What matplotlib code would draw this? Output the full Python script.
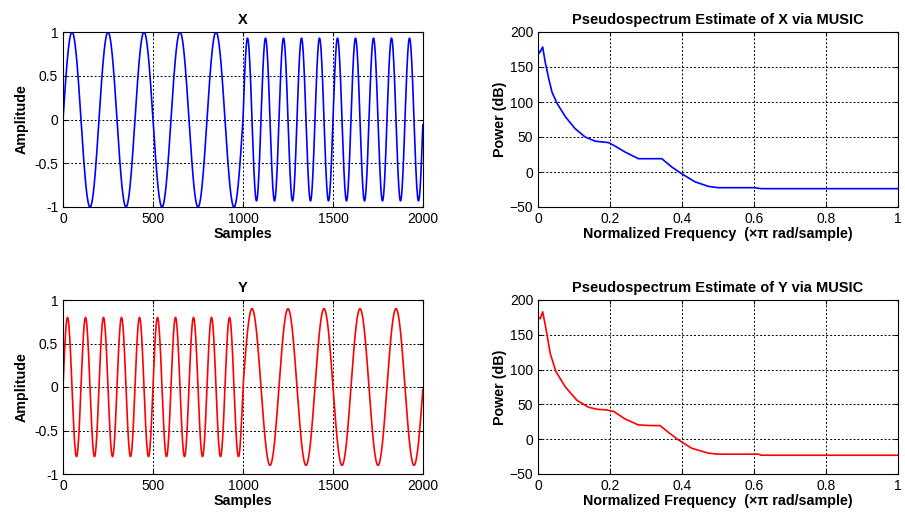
import numpy as np
import matplotlib
matplotlib.use("Agg")
import matplotlib.pyplot as plt

plt.rcParams['font.family'] = ['Liberation Sans', 'DejaVu Sans']

##### signaux : segments (debut, periode, amplitude) #####
nSamples = 2000
xSegStart = [0, 1000]
xSegPeriod = [200, 100]
xSegAmp = [1.0, 0.93]

ySegStart = [0, 1000]
ySegPeriod = [100, 200]
ySegAmp = [0.8, 0.9]

##### pseudospectres MUSIC #####
freqX = [0.0, 0.004, 0.013, 0.02, 0.03, 0.039, 0.053, 0.076, 0.103, 0.131, 0.159,
         0.196, 0.214, 0.242, 0.279, 0.344, 0.372, 0.399, 0.436, 0.473, 0.5, 0.6,
         0.62, 1.0]
powX = [174, 170, 178.5, 157, 133, 114, 98, 79, 62, 50, 44,
        42, 37, 28.5, 19, 19, 7, -2.4, -14, -20.5, -22.4, -22.4,
        -23.8, -23.8]

freqY = [0.0, 0.006, 0.013, 0.022, 0.034, 0.05, 0.076, 0.108, 0.14, 0.164, 0.191,
         0.21, 0.242, 0.279, 0.311, 0.339, 0.362, 0.39, 0.427, 0.473, 0.5, 0.612,
         0.62, 1.0]
powY = [175.6, 173, 183, 159, 123, 97, 75, 56, 46, 43, 42,
        40, 29, 20.5, 19.6, 19.6, 10, -1, -13, -20, -21.5, -21.5,
        -23, -23]


def buildSignal(starts, periods, amps, n):
    t = np.arange(n)
    sig = np.zeros(n)
    bounds = list(starts) + [n]
    for k in range(len(starts)):
        m = (t >= bounds[k]) & (t < bounds[k + 1])
        sig[m] = amps[k] * np.sin(2 * np.pi * (t[m] - bounds[k]) / periods[k])
    return t, sig


def matlabAxes(ax):
    ax.grid(True, color='black', linestyle=(0, (2, 2)), linewidth=0.7)
    ax.tick_params(direction='in', top=True, right=True, labelsize=10, length=3)
    for s in ax.spines.values():
        s.set_linewidth(0.8)


fig = plt.figure(figsize=(9.05, 5.15), dpi=100)
W, H = 905.0, 515.0
axX = fig.add_axes([63 / W, 1 - 207 / H, 360 / W, 175 / H])
axPX = fig.add_axes([538 / W, 1 - 207 / H, 360 / W, 175 / H])
axY = fig.add_axes([63 / W, 1 - 474 / H, 360 / W, 174 / H])
axPY = fig.add_axes([538 / W, 1 - 474 / H, 360 / W, 174 / H])

tX, sigX = buildSignal(xSegStart, xSegPeriod, xSegAmp, nSamples)
tY, sigY = buildSignal(ySegStart, ySegPeriod, ySegAmp, nSamples)

for ax, t, sig, col, name in [(axX, tX, sigX, 'blue', 'X'), (axY, tY, sigY, 'red', 'Y')]:
    ax.plot(t, sig, color=col, linewidth=1.2)
    ax.set_xlim(0, 2000)
    ax.set_ylim(-1, 1)
    ax.set_xticks([0, 500, 1000, 1500, 2000])
    ax.set_yticks([-1, -0.5, 0, 0.5, 1])
    ax.set_yticklabels(['-1', '-0.5', '0', '0.5', '1'])
    ax.set_title(name, fontsize=10.5, fontweight='bold', pad=6)
    ax.set_xlabel('Samples', fontsize=10.3, fontweight='bold', labelpad=1)
    ax.set_ylabel('Amplitude', fontsize=10.3, fontweight='bold', labelpad=4)
    matlabAxes(ax)

for ax, f, p, col, name in [(axPX, freqX, powX, 'blue', 'X'), (axPY, freqY, powY, 'red', 'Y')]:
    ax.plot(f, p, color=col, linewidth=1.2)
    ax.set_xlim(0, 1)
    ax.set_ylim(-50, 200)
    ax.set_xticks([0, 0.2, 0.4, 0.6, 0.8, 1])
    ax.set_xticklabels(['0', '0.2', '0.4', '0.6', '0.8', '1'])
    ax.set_yticks([-50, 0, 50, 100, 150, 200])
    ax.set_title('Pseudospectrum Estimate of ' + name + ' via MUSIC', fontsize=10.5,
                 fontweight='bold', pad=6)
    ax.set_xlabel('Normalized Frequency  (\u00d7\u03c0 rad/sample)', fontsize=10.3,
                  fontweight='bold', labelpad=1)
    ax.set_ylabel('Power (dB)', fontsize=10.3, fontweight='bold', labelpad=2)
    matlabAxes(ax)

fig.savefig('out.png', dpi=100)
